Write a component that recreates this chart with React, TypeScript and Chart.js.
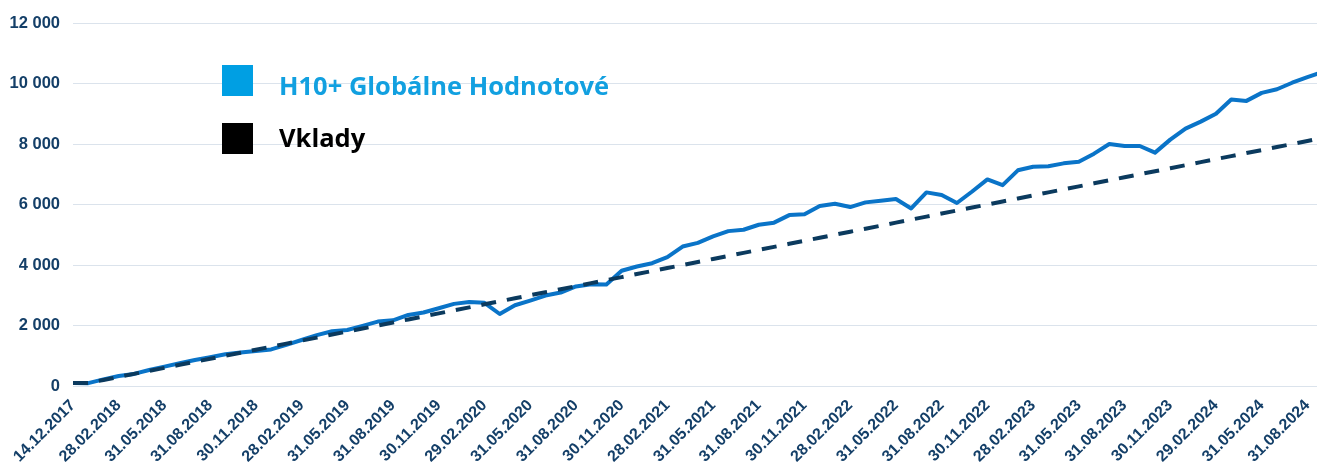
import React, { useEffect, useRef } from "react";
import { Chart, registerables } from "chart.js";

Chart.register(...registerables);

// Tick labels: one every 3 data points (index 0, 3, 6, ...)
const tickLabels = [
  "14.12.2017", "28.02.2018", "31.05.2018", "31.08.2018", "30.11.2018",
  "28.02.2019", "31.05.2019", "31.08.2019", "30.11.2019", "29.02.2020",
  "31.05.2020", "31.08.2020", "30.11.2020", "28.02.2021", "31.05.2021",
  "31.08.2021", "30.11.2021", "28.02.2022", "31.05.2022", "31.08.2022",
  "30.11.2022", "28.02.2023", "31.05.2023", "31.08.2023", "30.11.2023",
  "29.02.2024", "31.05.2024", "31.08.2024",
];

const fundLabel = "H10+ Globálne Hodnotové";
const depositLabel = "Vklady";

// Monthly values of the fund (index 0 = 14.12.2017, then month ends)
const fundValues = [
  100, 95, 220, 330, 400, 530, 640, 750, 860, 950,
  1050, 1110, 1160, 1210, 1360, 1520, 1680, 1810, 1850, 1990,
  2130, 2170, 2350, 2430, 2570, 2715, 2780, 2750, 2380, 2670,
  2825, 2990, 3090, 3290, 3365, 3355, 3810, 3950, 4060, 4260,
  4610, 4730, 4945, 5120, 5165, 5330, 5400, 5650, 5675, 5950,
  6025, 5915, 6070, 6125, 6180, 5870, 6400, 6315, 6050, 6430,
  6830, 6640, 7130, 7250, 7265, 7360, 7415, 7680, 8000, 7935,
  7935, 7715, 8145, 8510, 8740, 9000, 9470, 9425, 9690, 9810,
  10025, 10210, 10380,
];

// Cumulative deposits
const depositValues = [
  100, 100, 200, 300, 400, 500, 600, 700, 800, 900,
  1000, 1100, 1200, 1300, 1400, 1500, 1600, 1700, 1800, 1900,
  2000, 2100, 2200, 2300, 2400, 2500, 2600, 2700, 2800, 2900,
  3000, 3100, 3200, 3300, 3400, 3500, 3600, 3700, 3800, 3900,
  4000, 4100, 4200, 4300, 4400, 4500, 4600, 4700, 4800, 4900,
  5000, 5100, 5200, 5300, 5400, 5500, 5600, 5700, 5800, 5900,
  6000, 6100, 6200, 6300, 6400, 6500, 6600, 6700, 6800, 6900,
  7000, 7100, 7200, 7300, 7400, 7500, 7600, 7700, 7800, 7900,
  8000, 8100, 8200,
];

const FUND_COLOR = "#0a74c8";
const DEPOSIT_COLOR = "#0b3a5e";
const AXIS_TEXT = "#143f68";

const formatThousands = (v: number) =>
  String(v).replace(/\B(?=(\d{3})+(?!\d))/g, " ");

const legendPlugin = {
  id: "customLegend",
  afterDraw(chart: any) {
    const ctx = chart.ctx;
    ctx.save();
    const items = [
      { square: "#009fe3", text: "#12a0e0", label: fundLabel, top: 65, baseline: 95 },
      { square: "#000000", text: "#000000", label: depositLabel, top: 123, baseline: 147 },
    ];
    ctx.font = "bold 25.5px 'Open Sans', sans-serif";
    ctx.textBaseline = "alphabetic";
    ctx.textAlign = "left";
    for (const it of items) {
      ctx.fillStyle = it.square;
      ctx.fillRect(222, it.top, 31, 31);
      ctx.fillStyle = it.text;
      ctx.fillText(it.label, 279, it.baseline);
    }
    ctx.restore();
  },
};

export default function App() {
  const canvasRef = useRef<HTMLCanvasElement | null>(null);

  useEffect(() => {
    if (!canvasRef.current) return;
    const chart = new Chart(canvasRef.current, {
      type: "line",
      data: {
        datasets: [
          {
            label: depositLabel,
            data: depositValues.map((v, i) => ({ x: i, y: v })),
            borderColor: DEPOSIT_COLOR,
            borderWidth: 4,
            borderDash: [15, 11],
            pointRadius: 0,
            tension: 0,
            fill: false,
            order: 0,
          },
          {
            label: fundLabel,
            data: fundValues.map((v, i) => ({ x: i, y: v })),
            borderColor: FUND_COLOR,
            borderWidth: 4,
            pointRadius: 0,
            tension: 0,
            fill: false,
            order: 1,
            borderJoinStyle: "round",
          },
        ],
      },
      options: {
        responsive: false,
        animation: false,
        devicePixelRatio: 1,
        layout: { padding: { top: 23, left: 0, right: 0, bottom: 0 } },
        plugins: {
          legend: { display: false },
          tooltip: { enabled: false },
        },
        scales: {
          x: {
            type: "linear",
            min: 0,
            max: 81.63,
            afterFit: (scale: any) => {
              scale.height = 78;
            },
            grid: { display: false, drawTicks: false },
            border: { display: false },
            ticks: {
              stepSize: 3,
              includeBounds: false,
              autoSkip: false,
              maxRotation: 45,
              minRotation: 45,
              padding: 10,
              color: AXIS_TEXT,
              font: { family: "'Liberation Sans', Arial, sans-serif", size: 16, weight: "bold" },
              callback: (value: any) => {
                const v = Number(value);
                if (v % 3 !== 0) return "";
                return tickLabels[v / 3] ?? "";
              },
            },
          },
          y: {
            min: 0,
            max: 12000,
            afterFit: (scale: any) => {
              scale.width = 73;
            },
            grid: { color: "#dbe3ec", lineWidth: 1, drawTicks: false },
            border: { display: false },
            ticks: {
              stepSize: 2000,
              padding: 13,
              color: AXIS_TEXT,
              font: { family: "'Liberation Sans', Arial, sans-serif", size: 16.5, weight: "bold" },
              callback: (value: any) => formatThousands(Number(value)),
            },
          },
        },
      },
      plugins: [legendPlugin],
    });
    return () => chart.destroy();
  }, []);

  return (
    <div
      style={{
        position: "fixed",
        top: 0,
        left: 0,
        width: 1331,
        height: 464,
        overflow: "hidden",
        background: "#ffffff",
      }}
    >
      <canvas ref={canvasRef} width={1331} height={464} style={{ display: "block" }} />
    </div>
  );
}
